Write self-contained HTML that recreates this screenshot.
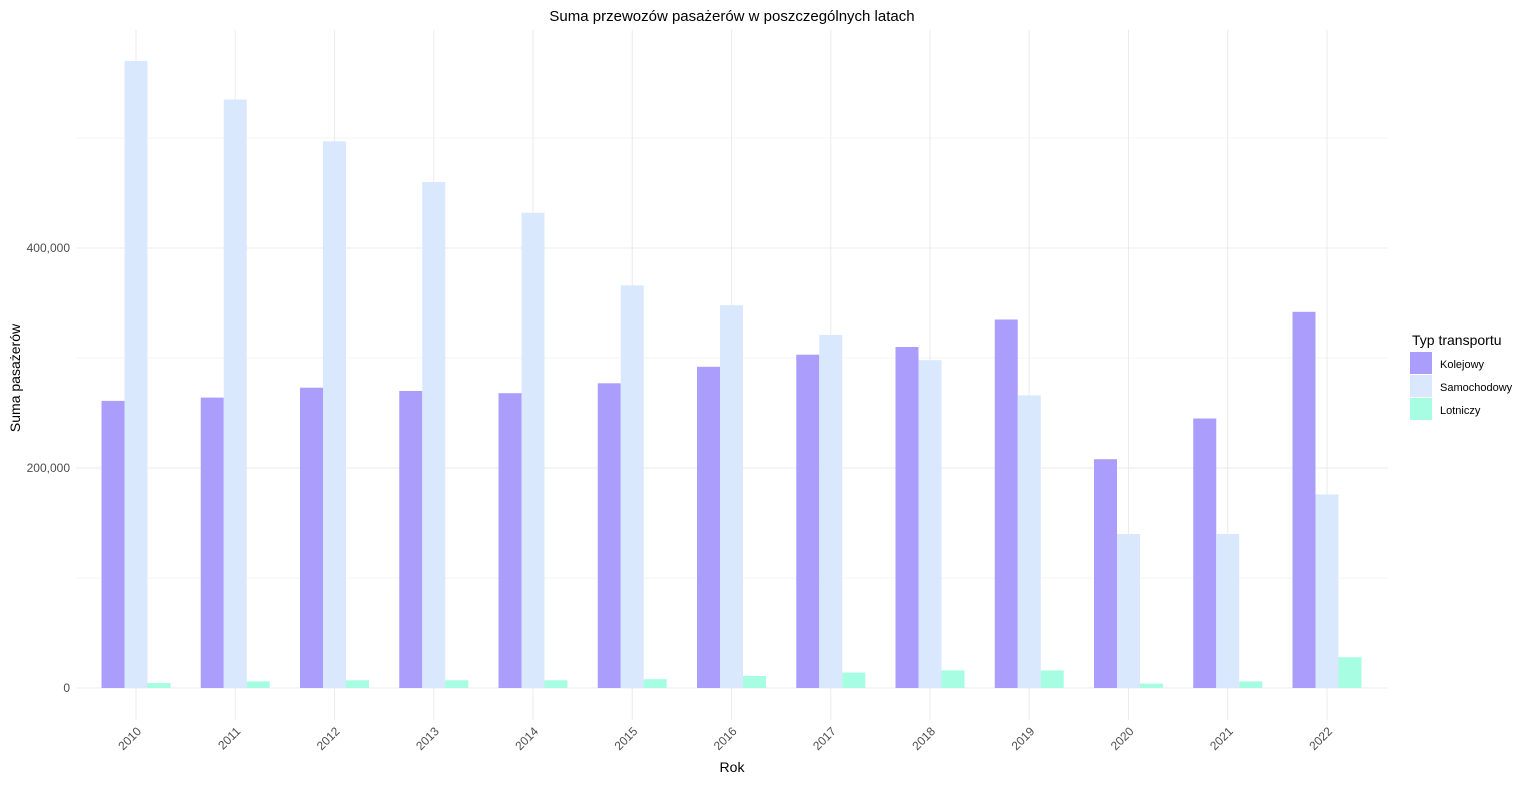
<!DOCTYPE html>
<html><head><meta charset="utf-8"><style>
body{margin:0;background:#fff;font-family:"Liberation Sans",Arial,sans-serif}
svg text{font-family:"Liberation Sans",Arial,sans-serif}
</style></head><body>
<svg id="chart" width="1536" height="781" xmlns="http://www.w3.org/2000/svg">
<rect width="1536" height="781" fill="#fff"/>
<g id="grid"></g><g id="bars"></g><g id="axes"></g>
<text x="732" y="21" text-anchor="middle" font-size="15" fill="#000">Suma przewozów pasażerów w poszczególnych latach</text>
<text x="732" y="772" text-anchor="middle" font-size="14" fill="#000">Rok</text>
<text transform="translate(20,378) rotate(-90)" text-anchor="middle" font-size="14" fill="#000">Suma pasażerów</text>
<g>
<text x="1412" y="345" font-size="14" fill="#000">Typ transportu</text>
<rect x="1410" y="352" width="22" height="22" fill="#ab9dfc"/>
<text x="1440" y="368" font-size="11" fill="#000">Kolejowy</text>
<rect x="1410" y="375" width="22" height="22" fill="#d9e8fd"/>
<text x="1440" y="391" font-size="11" fill="#000">Samochodowy</text>
<rect x="1410" y="398" width="22" height="22" fill="#a6fde1"/>
<text x="1440" y="414" font-size="11" fill="#000">Lotniczy</text>
</g>
</svg>
<script>
const years=["2010","2011","2012","2013","2014","2015","2016","2017","2018","2019","2020","2021","2022"];
const kolejowy=[261000,264000,273000,270000,268000,277000,292000,303000,310000,335000,208000,245000,342000];
const samochodowy=[570000,535000,497000,460000,432000,366000,348000,321000,298000,266000,140000,140000,176000];
const lotniczy=[4500,6000,7000,7000,7000,8000,11000,14000,16000,16000,4000,6000,28000];
const yTicks=[0,200000,400000];
const yTickLabels=["0","200,000","400,000"];
const NS="http://www.w3.org/2000/svg";
const x0=136,step=99.25,y0=688,pxPer=220/200000,bw=23;
const xs=i=>x0+i*step;
const ys=v=>y0-v*pxPer;
const grid=document.getElementById('grid'),bars=document.getElementById('bars'),axes=document.getElementById('axes');
function mk(tag,attrs,parent){const e=document.createElementNS(NS,tag);for(const k in attrs)e.setAttribute(k,attrs[k]);parent.appendChild(e);return e;}
for(let v=0;v<=500000;v+=100000){
  const l=mk('line',{x1:76,x2:1388,y1:ys(v),y2:ys(v),stroke:'#ebebeb','stroke-width':v%200000===0?1:0.6},grid);
  
  
}
years.forEach((y,i)=>{
  const l=mk('line',{x1:xs(i),x2:xs(i),y1:30,y2:720,stroke:'#ebebeb','stroke-width':1},grid);
  
  
  const t=mk('text',{transform:`translate(${xs(i)+6},${732}) rotate(-45)`,'text-anchor':'end','font-size':12,fill:'#4d4d4d'},axes);
  t.textContent=y;
  
  
});
yTicks.forEach((v,i)=>{
  const t=mk('text',{x:70,y:ys(v)+4,'text-anchor':'end','font-size':12,fill:'#4d4d4d'},axes);
  t.textContent=yTickLabels[i];
  
  
});
const series=[[kolejowy,'#ab9dfc','kolejowy'],[samochodowy,'#d9e8fd','samochodowy'],[lotniczy,'#a6fde1','lotniczy']];
years.forEach((y,i)=>{
  series.forEach((s,j)=>{
    const v=s[0][i];
    const r=mk('rect',{x:xs(i)-34.5+j*bw,y:ys(v),width:bw,height:y0-ys(v),fill:s[1]},bars);
    
    
  });
});
</script>
</body></html>
